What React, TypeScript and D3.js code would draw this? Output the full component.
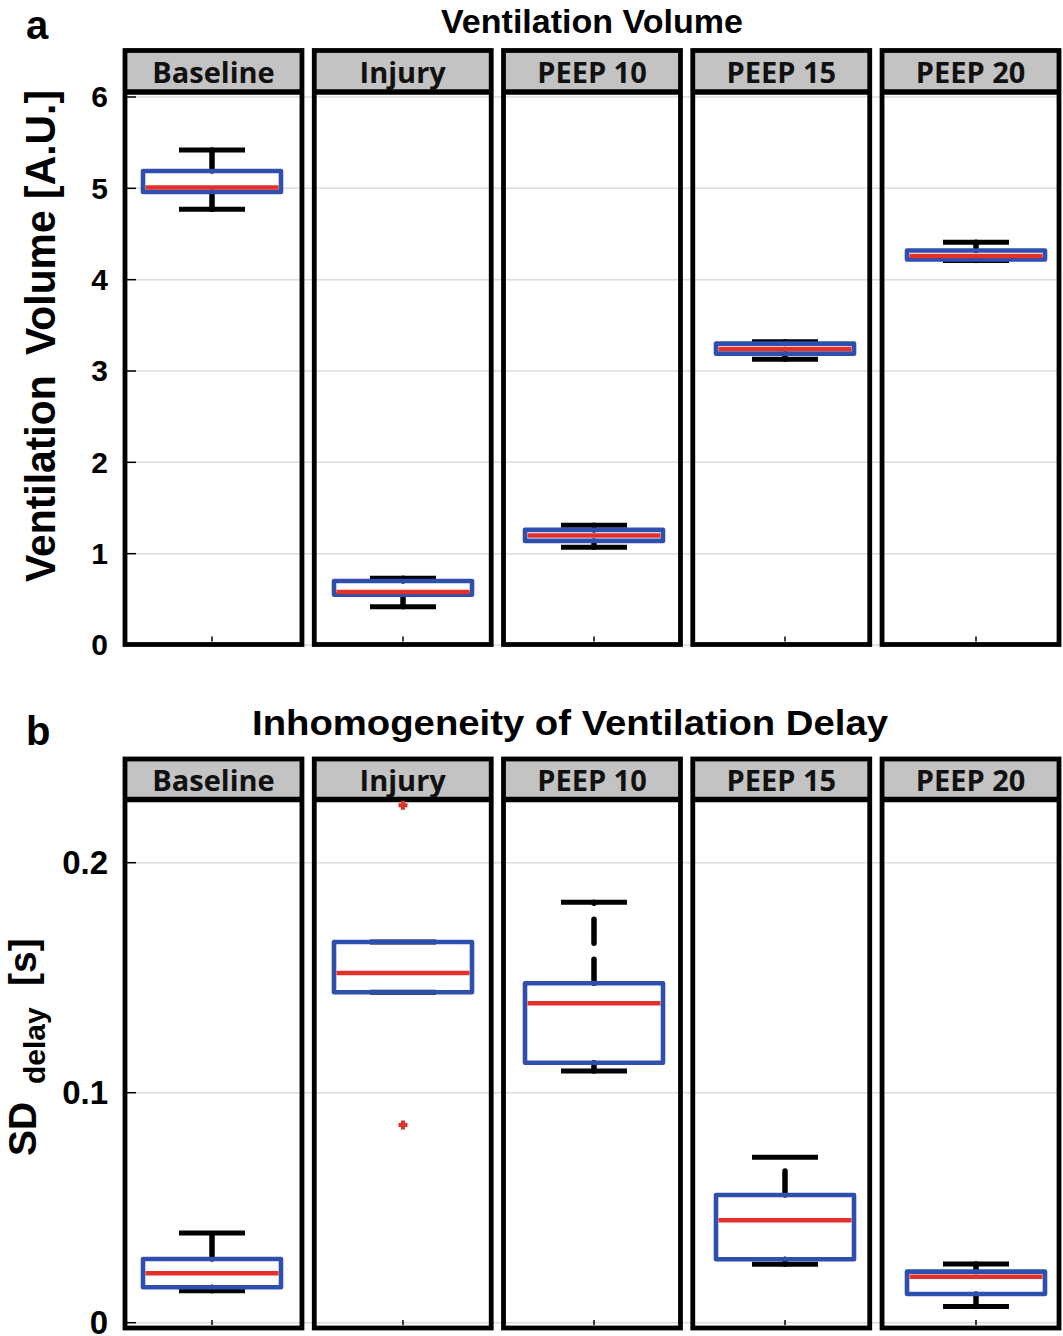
import React from "react";
import * as d3 from "d3";

const categories = ["Baseline", "Injury", "PEEP 10", "PEEP 15", "PEEP 20"];

// panel a: ventilation volume [A.U.]
const volLower = [4.77, 0.42, 1.07, 3.13, 4.21];
const volQ1 = [4.96, 0.55, 1.14, 3.19, 4.22];
const volMedian = [5.01, 0.58, 1.2, 3.24, 4.26];
const volQ3 = [5.19, 0.7, 1.26, 3.3, 4.32];
const volUpper = [5.42, 0.73, 1.31, 3.32, 4.41];
const volOutliers: number[][] = [[], [], [], [], []];
const volTicks = [0, 1, 2, 3, 4, 5, 6];

// panel b: SD of ventilation delay [s]
const delayLower = [0.0139, 0.1437, 0.1094, 0.0254, 0.007];
const delayQ1 = [0.0154, 0.1437, 0.113, 0.0276, 0.0125];
const delayMedian = [0.0215, 0.152, 0.1389, 0.0445, 0.02];
const delayQ3 = [0.0277, 0.1655, 0.1476, 0.0555, 0.0222];
const delayUpper = [0.039, 0.1655, 0.1828, 0.0719, 0.0255];
const delayOutliers: number[][] = [[], [0.225, 0.086], [], [], []];
const delayTicks = [0, 0.1, 0.2];

const W = 1063;
const H = 1336;
const BLUE = "#2f4fae";
const RED = "#e3302a";
const GRID = "#dadbe3";
const HEAD = "#c3c3c3";
const FONT = "'Liberation Sans', Arial, sans-serif";
const HFONT = "'Open Sans', 'Noto Sans', sans-serif";

const xPanel = d3.scaleBand<string>().domain(categories).range([125, 1059]).paddingInner(0.065);
const xBox = d3.scalePoint<string>().domain(categories).range([212, 976]);
const boxW = 138;
const capW = 66;

type PanelProps = {
  y: d3.ScaleLinear<number, number>;
  ticks: number[];
  fmt: (v: number) => string;
  tickSize: number;
  headTop: number;
  headBottom: number;
  plotBottom: number;
  lower: number[];
  q1: number[];
  median: number[];
  q3: number[];
  upper: number[];
  outliers: number[][];
};

function BoxPanel(p: PanelProps) {
  const { y } = p;
  const x0 = xPanel(categories[0])!;
  const x1 = xPanel(categories[categories.length - 1])! + xPanel.bandwidth();
  return (
    <g>
      {p.ticks.map((t) => (
        <line key={"g" + t} x1={x0} x2={x1} y1={y(t)} y2={y(t)} stroke={GRID} strokeWidth={1.5} />
      ))}
      {categories.map((c) => {
        const px = xPanel(c)!;
        const bw = xPanel.bandwidth();
        return (
          <g key={"p" + c}>
            <rect x={px} y={p.headTop} width={bw} height={p.headBottom - p.headTop} fill={HEAD} />
            <rect x={px} y={p.headTop} width={bw} height={p.plotBottom - p.headTop} fill="none" stroke="#000" strokeWidth={4.8} />
            <line x1={px} x2={px + bw} y1={p.headBottom} y2={p.headBottom} stroke="#000" strokeWidth={5.5} />
            <text
              x={px + bw / 2}
              y={p.headBottom - 9}
              textAnchor="middle"
              fontFamily={HFONT}
              fontWeight={700}
              fontSize={29}
              fill="#111"
            >
              {c}
            </text>
            <line x1={xBox(c)} x2={xBox(c)} y1={p.plotBottom - 3} y2={p.plotBottom - 8} stroke="#000" strokeWidth={1.5} />
          </g>
        );
      })}
      {p.ticks.map((t) => (
        <g key={"t" + t}>
          <line x1={x0 + 2} x2={x0 + 11} y1={y(t)} y2={y(t)} stroke="#000" strokeWidth={1.5} />
          <text x={108} y={y(t)} dy="0.34em" textAnchor="end" fontFamily={FONT} fontWeight={700} fontSize={p.tickSize}>
            {p.fmt(t)}
          </text>
        </g>
      ))}
      {categories.map((c, i) => {
        const cx = xBox(c)!;
        const whisker = (from: number, to: number) => (
          <line
            x1={cx}
            x2={cx}
            y1={y(from)}
            y2={y(to)}
            stroke="#000"
            strokeWidth={5.5}
            strokeDasharray="24 16"
            strokeLinecap="round"
          />
        );
        return (
          <g key={"b" + c}>
            {p.upper[i] > p.q3[i] && whisker(p.q3[i], p.upper[i])}
            {p.lower[i] < p.q1[i] && whisker(p.q1[i], p.lower[i])}
            <line x1={cx - capW / 2} x2={cx + capW / 2} y1={y(p.upper[i])} y2={y(p.upper[i])} stroke="#000" strokeWidth={5} />
            <line x1={cx - capW / 2} x2={cx + capW / 2} y1={y(p.lower[i])} y2={y(p.lower[i])} stroke="#000" strokeWidth={5} />
            <rect
              x={cx - boxW / 2}
              y={y(p.q3[i])}
              width={boxW}
              height={y(p.q1[i]) - y(p.q3[i])}
              fill="none"
              stroke={BLUE}
              strokeWidth={4.6}
              strokeLinejoin="round"
            />
            <line
              x1={cx - boxW / 2 + 2.5}
              x2={cx + boxW / 2 - 2.5}
              y1={y(p.median[i])}
              y2={y(p.median[i])}
              stroke={RED}
              strokeWidth={4.5}
            />
            {p.outliers[i].map((o, k) => (
              <path
                key={k}
                d={`M${cx - 4.5},${y(o)}h9M${cx},${y(o) - 4.5}v9`}
                stroke={RED}
                strokeWidth={4}
              />
            ))}
          </g>
        );
      })}
    </g>
  );
}

export default function App() {
  const yVol = d3.scaleLinear().domain([0, 6]).range([645, 97]);
  const yDelay = d3.scaleLinear().domain([0, 0.2]).range([1322.7, 862.7]);
  return (
    <svg
      width={W}
      height={H}
      viewBox={`0 0 ${W} ${H}`}
      style={{ position: "absolute", left: 0, top: 0, background: "#fff" }}
    >
      <rect width={W} height={H} fill="#fff" />
      <text x={26} y={39} fontFamily={FONT} fontWeight={700} fontSize={40}>a</text>
      <text x={592} y={33} textAnchor="middle" fontFamily={FONT} fontWeight={700} fontSize={33} textLength={302} lengthAdjust="spacingAndGlyphs">
        Ventilation Volume
      </text>
      <text
        transform="translate(55,336) rotate(-90)"
        textAnchor="middle"
        fontFamily={FONT}
        fontWeight={700}
        fontSize={42}
        textLength={492}
        lengthAdjust="spacingAndGlyphs"
      >
        Ventilation{"\u2002"}Volume [A.U.]
      </text>
      <BoxPanel
        y={yVol}
        ticks={volTicks}
        fmt={(v) => d3.format("d")(v)}
        tickSize={30}
        headTop={50.5}
        headBottom={92}
        plotBottom={644.5}
        lower={volLower}
        q1={volQ1}
        median={volMedian}
        q3={volQ3}
        upper={volUpper}
        outliers={volOutliers}
      />

      <text x={26} y={745} fontFamily={FONT} fontWeight={700} fontSize={40}>b</text>
      <text x={570} y={735} textAnchor="middle" fontFamily={FONT} fontWeight={700} fontSize={35} textLength={636} lengthAdjust="spacingAndGlyphs">
        Inhomogeneity of Ventilation Delay
      </text>
      <g transform="translate(36,1156) rotate(-90)" fontFamily={FONT} fontWeight={700}>
        <text x={0} y={0} fontSize={39}>SD</text>
        <text x={72} y={9} fontSize={30}>delay</text>
        <text x={170} y={0} fontSize={39}>[s]</text>
      </g>
      <BoxPanel
        y={yDelay}
        ticks={delayTicks}
        fmt={(v) => (v === 0 ? "0" : d3.format(".1f")(v))}
        tickSize={33}
        headTop={759}
        headBottom={799.5}
        plotBottom={1328}
        lower={delayLower}
        q1={delayQ1}
        median={delayMedian}
        q3={delayQ3}
        upper={delayUpper}
        outliers={delayOutliers}
      />
    </svg>
  );
}
